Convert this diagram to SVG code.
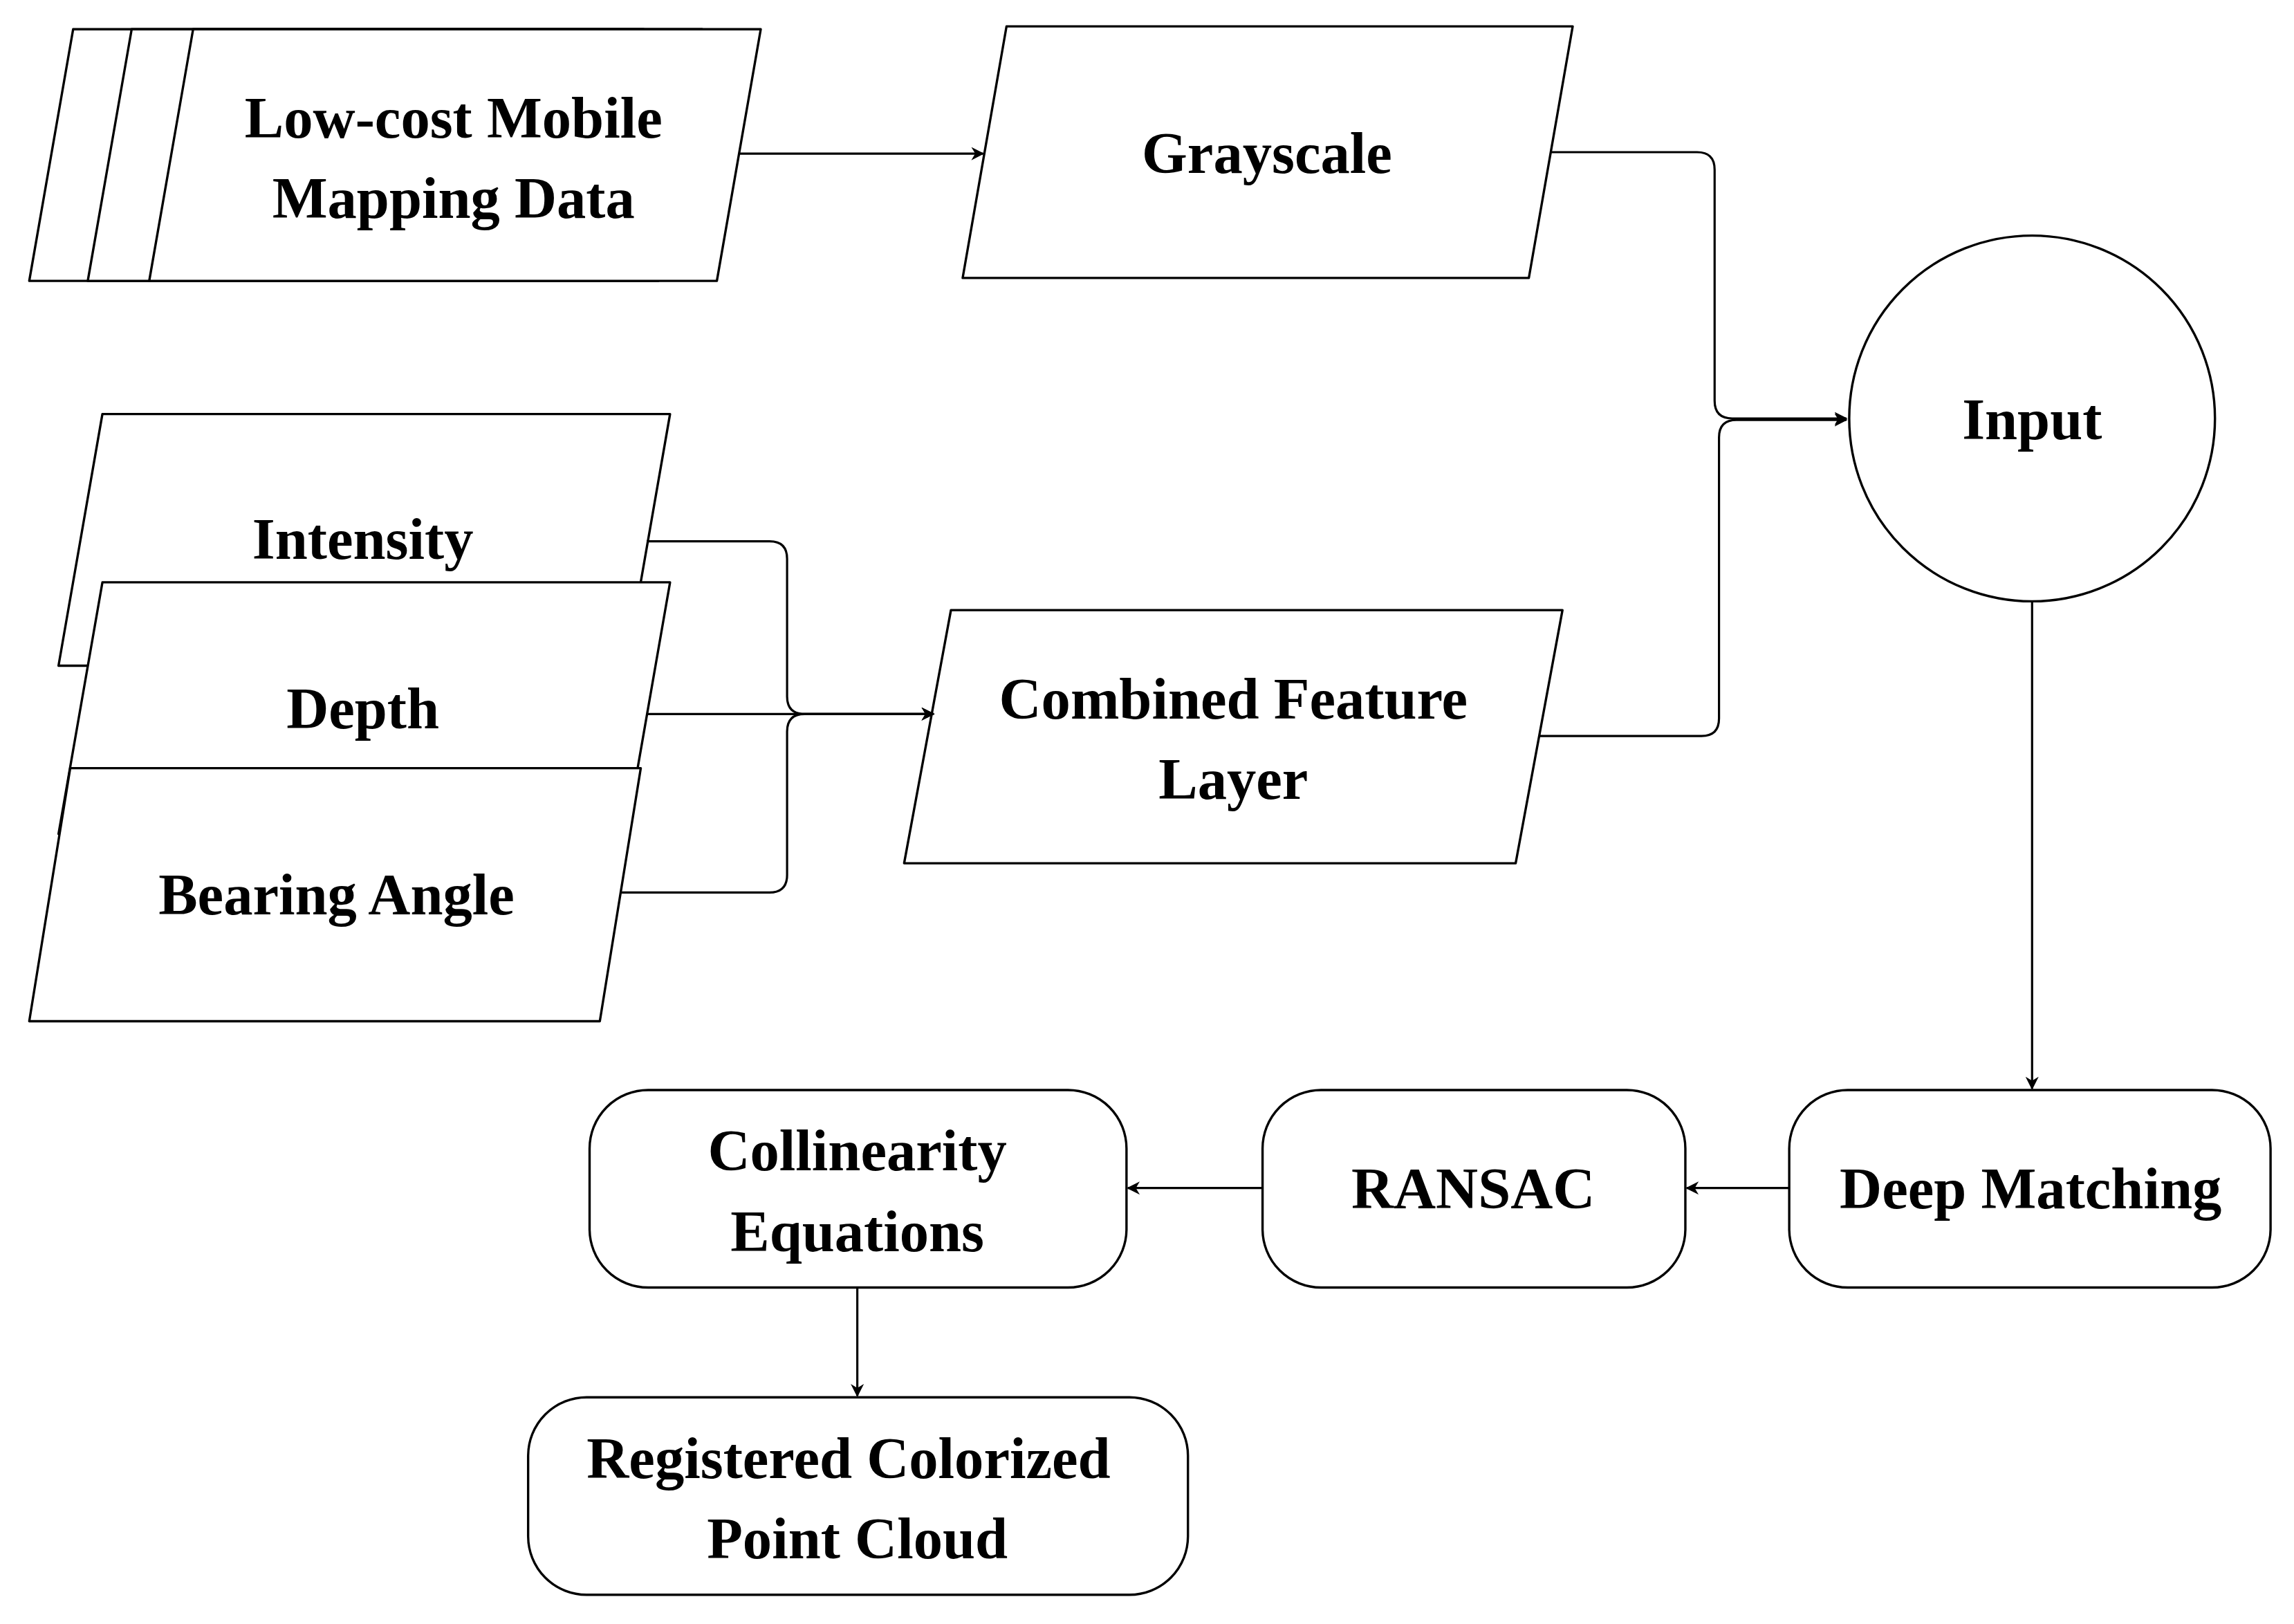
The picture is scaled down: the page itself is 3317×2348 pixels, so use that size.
<svg xmlns="http://www.w3.org/2000/svg" width="3317" height="2348" viewBox="0 0 3317 2348">
<defs>
<style>
.s{fill:#fff;stroke:#000;stroke-width:1.6;stroke-linejoin:round}
.t{font-family:"Liberation Serif",serif;font-weight:bold;font-size:40px;text-anchor:middle;fill:#000}
.c{fill:none;stroke:#000;stroke-width:1.5}
</style>
<marker id="a" viewBox="0 0 10 10" refX="9" refY="5" markerWidth="9" markerHeight="9" markerUnits="userSpaceOnUse" orient="auto"><path d="M0,0 L10,5 L0,10 L3,5 Z" fill="#000"/></marker>
</defs>
<rect width="3317" height="2348" fill="#fff"/>
<g transform="scale(2.1154)">
<g id="lowcost">
<path class="s" d="M50,20 L440,20 L410,192 L20,192 Z"/>
<path class="s" d="M90,20 L480,20 L450,192 L60,192 Z"/>
<path class="s" d="M132,20 L520,20 L490,192 L102,192 Z"/>
<text class="t" x="310" y="94">Low-cost Mobile</text>
<text class="t" x="310" y="149">Mapping Data</text>
</g>
<g id="grayscale">
<path class="s" d="M688,18 L1075,18 L1045,190 L658,190 Z"/>
<text class="t" x="866" y="118">Grayscale</text>
</g>
<g id="input">
<circle class="s" cx="1389" cy="286" r="125"/>
<text class="t" x="1389" y="300">Input</text>
</g>
<g id="intensity">
<path class="s" d="M70,283 L458,283 L428,455 L40,455 Z"/>
<text class="t" x="248" y="382">Intensity</text>
</g>
<g id="depth">
<path class="s" d="M70,398 L458,398 L428,570 L40,570 Z"/>
<text class="t" x="248" y="498">Depth</text>
</g>
<g id="bearing">
<path class="s" d="M48,525 L438,525 L410,698 L20,698 Z"/>
<text class="t" x="230" y="625">Bearing Angle</text>
</g>
<g id="combined">
<path class="s" d="M650,417 L1068,417 L1036,590 L618,590 Z"/>
<text class="t" x="843" y="491">Combined Feature</text>
<text class="t" x="843" y="546">Layer</text>
</g>
<g id="deepmatching">
<rect class="s" x="1223" y="745" width="329" height="135" rx="40"/>
<text class="t" x="1388" y="826">Deep Matching</text>
</g>
<g id="ransac">
<rect class="s" x="863" y="745" width="289" height="135" rx="40"/>
<text class="t" x="1007" y="826">RANSAC</text>
</g>
<g id="collinearity">
<rect class="s" x="403" y="745" width="367" height="135" rx="40"/>
<text class="t" x="586" y="800">Collinearity</text>
<text class="t" x="586" y="855">Equations</text>
</g>
<g id="registered">
<rect class="s" x="361" y="955" width="451" height="135" rx="40"/>
<text class="t" x="580" y="1010">Registered Colorized</text>
<text class="t" x="586" y="1065">Point Cloud</text>
</g>
<g id="connectors">
<path class="c" marker-end="url(#a)" d="M505,105 L672,105"/>
<path class="c" marker-end="url(#a)" d="M1060,104 L1160,104 Q1172,104 1172,116 L1172,274 Q1172,286 1184,286 L1262,286"/>
<path class="c" marker-end="url(#a)" d="M1052,503 L1163,503 Q1175,503 1175,491 L1175,299 Q1175,287 1187,287 L1262,287"/>
<path class="c" marker-end="url(#a)" d="M442,370 L526,370 Q538,370 538,382 L538,476 Q538,488 550,488 L638,488"/>
<path class="c" marker-end="url(#a)" d="M442,488 L638,488"/>
<path class="c" marker-end="url(#a)" d="M425,610 L526,610 Q538,610 538,598 L538,500 Q538,488 550,488 L638,488"/>
<path class="c" marker-end="url(#a)" d="M1389,411 L1389,744"/>
<path class="c" marker-end="url(#a)" d="M1223,812 L1153,812"/>
<path class="c" marker-end="url(#a)" d="M863,812 L771,812"/>
<path class="c" marker-end="url(#a)" d="M586,880 L586,954"/>
</g>
</g>
</svg>
